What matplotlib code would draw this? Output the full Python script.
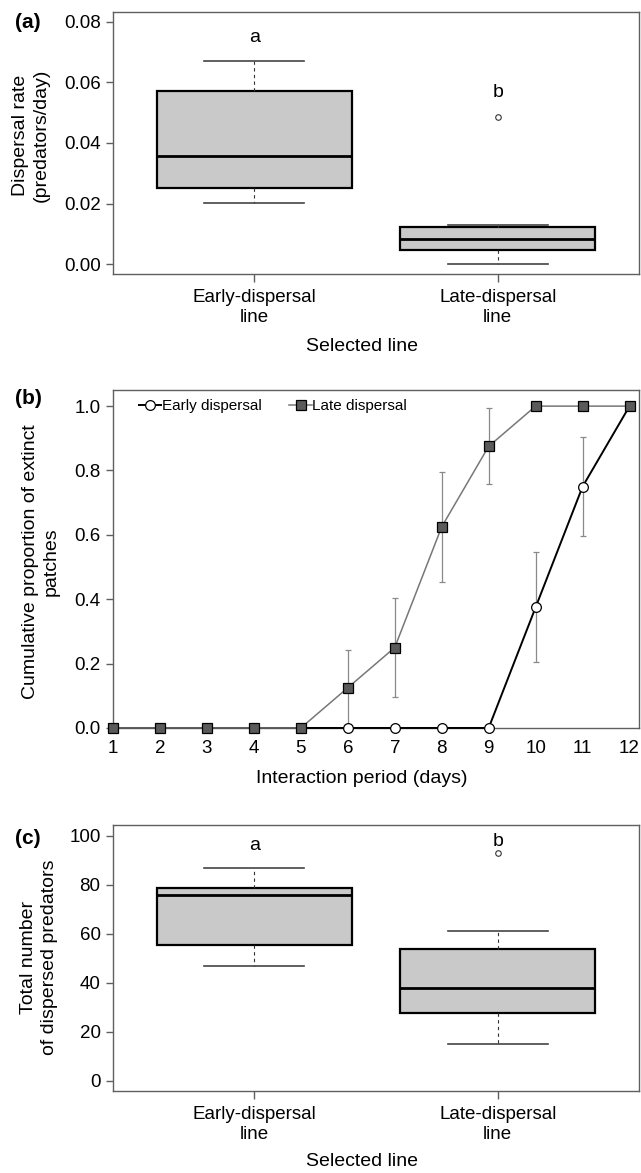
import numpy as np
import matplotlib
matplotlib.use("Agg")
import matplotlib.pyplot as plt

plt.rcParams['font.family'] = ['Liberation Sans', 'DejaVu Sans']

# ---- data ----
groups = ["Early-dispersal\nline", "Late-dispersal\nline"]
sig_letters = ["a", "b"]

# (a) dispersal rate (predators/day)
rate_q1 = [0.0250, 0.0046]
rate_med = [0.0357, 0.0083]
rate_q3 = [0.0573, 0.0122]
rate_lo = [0.0202, 0.0000]
rate_hi = [0.0671, 0.0129]
rate_out = [[], [0.0486]]
rate_letter_y = [0.0733, 0.0551]

# (b) cumulative proportion of extinct patches
days = [1, 2, 3, 4, 5, 6, 7, 8, 9, 10, 11, 12]
early_prop = [0, 0, 0, 0, 0, 0, 0, 0, 0, 0.375, 0.75, 1.0]
early_se = [0, 0, 0, 0, 0, 0, 0, 0, 0, 0.171, 0.153, 0]
late_prop = [0, 0, 0, 0, 0, 0.125, 0.25, 0.625, 0.875, 1.0, 1.0, 1.0]
late_se = [0, 0, 0, 0, 0, 0.117, 0.153, 0.171, 0.118, 0, 0, 0]

# (c) total number of dispersed predators
tot_q1 = [55.2, 27.6]
tot_med = [75.8, 37.8]
tot_q3 = [78.8, 53.8]
tot_lo = [47.0, 15.1]
tot_hi = [87.0, 61.2]
tot_out = [[], [93.1]]
tot_letter_y = [94.2, 95.8]

GRAY = '#5f5f5f'
TICK_FS = 13.5
LAB_FS = 14

fig = plt.figure(figsize=(6.41, 11.73), dpi=100)
ax_a = fig.add_axes([0.1763, 0.7664, 0.8205, 0.2234])
ax_b = fig.add_axes([0.1763, 0.3794, 0.8205, 0.2881])
ax_c = fig.add_axes([0.1763, 0.0699, 0.8205, 0.2268])


def style_axes(ax):
    for s in ax.spines.values():
        s.set_color(GRAY)
        s.set_linewidth(1.0)
    ax.tick_params(direction='out', color=GRAY, width=1.0, length=5,
                   labelsize=TICK_FS, pad=4)


def draw_box(ax, q1, med, q3, lo, hi, out, letter_y, ylim, yticks):
    stats = []
    for i in range(len(groups)):
        stats.append(dict(q1=q1[i], med=med[i], q3=q3[i], whislo=lo[i],
                          whishi=hi[i], fliers=out[i], label=groups[i]))
    ax.bxp(stats, positions=[1, 2], widths=0.8, capwidths=0.41,
           patch_artist=True,
           boxprops=dict(facecolor='#c9c9c9', edgecolor='black', linewidth=1.6),
           medianprops=dict(color='black', linewidth=2.0),
           whiskerprops=dict(color='#333333', linewidth=0.8, linestyle=(0, (3, 3))),
           capprops=dict(color='#444444', linewidth=1.2),
           flierprops=dict(marker='o', markerfacecolor='none',
                           markeredgecolor='#333333', markersize=4, markeredgewidth=0.8))
    for i, let in enumerate(sig_letters):
        ax.text(i + 1, letter_y[i], let, ha='center', va='baseline', fontsize=LAB_FS)
    ax.set_xlim(0.42, 2.58)
    ax.set_ylim(*ylim)
    ax.set_yticks(yticks)
    style_axes(ax)
    ax.tick_params(axis='x', length=6, pad=5)


# (a)
draw_box(ax_a, rate_q1, rate_med, rate_q3, rate_lo, rate_hi, rate_out,
         rate_letter_y, (-0.0033, 0.0833), [0.0, 0.02, 0.04, 0.06, 0.08])
ax_a.set_yticklabels(["0.00", "0.02", "0.04", "0.06", "0.08"])

# (c)
draw_box(ax_c, tot_q1, tot_med, tot_q3, tot_lo, tot_hi, tot_out,
         tot_letter_y, (-4.2, 104.4), [0, 20, 40, 60, 80, 100])

# (b)
early_err = np.where(np.array(early_se) > 0, early_se, np.nan)
late_err = np.where(np.array(late_se) > 0, late_se, np.nan)
ax_b.errorbar(days, early_prop, yerr=early_err, fmt='none', ecolor='#8a8a8a',
              elinewidth=0.9, capsize=2.2, capthick=0.9, zorder=1)
ax_b.errorbar(days, late_prop, yerr=late_err, fmt='none', ecolor='#8a8a8a',
              elinewidth=0.9, capsize=2.2, capthick=0.9, zorder=1)
ln_e, = ax_b.plot(days, early_prop, color='black', linewidth=1.4, marker='o',
                  markersize=7, markerfacecolor='white', markeredgecolor='black',
                  markeredgewidth=0.9, label='Early dispersal', zorder=3, clip_on=False)
ln_l, = ax_b.plot(days, late_prop, color='#777777', linewidth=1.1, marker='s',
                  markersize=7, markerfacecolor='#5a5a5a', markeredgecolor='black',
                  markeredgewidth=0.9, label='Late dispersal', zorder=4, clip_on=False)
ax_b.set_xlim(1, 12.2)
ax_b.set_ylim(0, 1.05)
ax_b.set_xticks(days)
ax_b.set_yticks([0, 0.2, 0.4, 0.6, 0.8, 1.0])
ax_b.set_yticklabels(["0.0", "0.2", "0.4", "0.6", "0.8", "1.0"])
style_axes(ax_b)
ax_b.tick_params(axis='x', length=0, pad=9)
ax_b.legend(handles=[ln_e, ln_l], loc='center left', bbox_to_anchor=(0.05, 0.953),
            ncol=2, frameon=False, fontsize=11, handlelength=1.45,
            handletextpad=0.05, columnspacing=1.8, borderpad=0, borderaxespad=0,
            numpoints=1)

# axis titles
fig.text(0.565, 0.7042, "Selected line", ha='center', va='center', fontsize=LAB_FS)
fig.text(0.565, 0.3367, "Interaction period (days)", ha='center', va='center', fontsize=LAB_FS)
fig.text(0.565, 0.0095, "Selected line", ha='center', va='center', fontsize=LAB_FS)

fig.text(0.048, 0.885, "Dispersal rate\n(predators/day)", rotation=90, ha='center',
         va='center', fontsize=LAB_FS, linespacing=1.3, multialignment='center')
fig.text(0.064, 0.521, "Cumulative proportion of extinct\npatches", rotation=90,
         ha='center', va='center', fontsize=LAB_FS, linespacing=1.3, multialignment='center')
fig.text(0.061, 0.184, "Total number\nof dispersed predators", rotation=90,
         ha='center', va='center', fontsize=LAB_FS, linespacing=1.3, multialignment='center')

# panel tags
for tag, yy in [("(a)", 1 - 22 / 1173), ("(b)", 1 - 398 / 1173), ("(c)", 1 - 838 / 1173)]:
    fig.text(15 / 641, yy, tag, ha='left', va='center', fontsize=15, fontweight='bold')

fig.savefig("out.png", dpi=100)
